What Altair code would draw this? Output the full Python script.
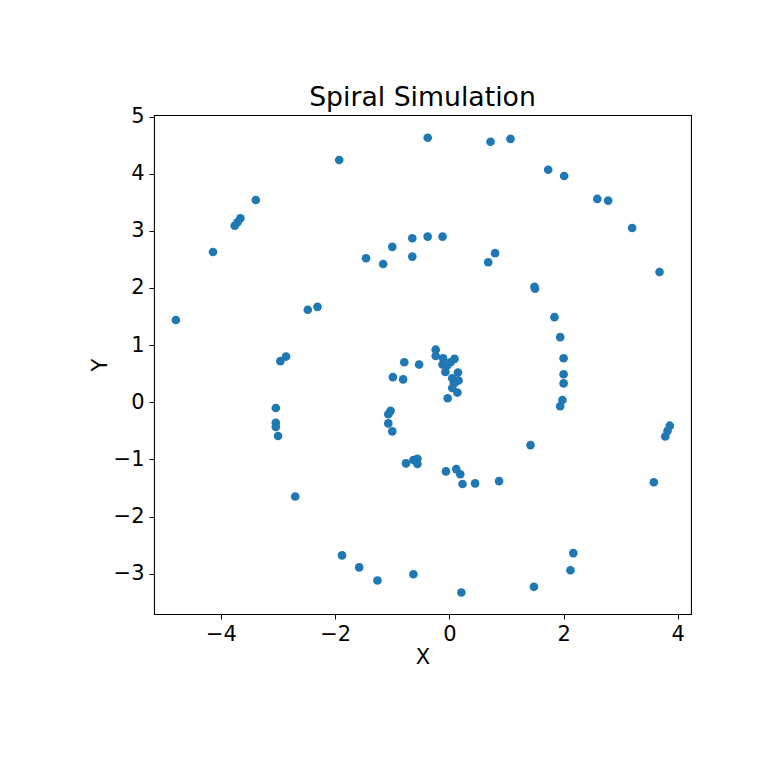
import altair as alt
import pandas as pd

x_vals = [
    -3.39, -3.66, -3.71, -3.76, -4.14,
    -1.93, -0.38, 0.72, 1.07, -1.46, -1.16, -1.00, -0.65, -0.38, -0.12, -0.65, 0.68, 0.80,
    1.73, 2.01, 2.59, 2.78, 3.20, 3.68,
    -4.79, -2.48, -2.31, -2.96, -2.86, -3.04, -3.04, -3.04, -3.00,
    -0.79, -0.53, -0.99, -0.81, -1.03, -1.07, -1.07, -1.00,
    -0.24, -0.24, -0.11, 0.09, 0.02, -0.12, -0.04, -0.07, 0.15, 0.05, 0.16, 0.08, 0.05, 0.14, -0.03,
    1.49, 1.50, 1.84, 1.94, 2.00, 2.00, 2.00, 1.98, 1.94, 3.86, 3.82, 3.78, 1.42,
    -2.70,
    -0.76, -0.63, -0.56, -0.56, -0.06, 0.12, 0.19, 0.23, 0.45, 0.87, -1.88, -1.58, -1.26, -0.63, 0.21,
    3.58, 2.17, 2.12, 1.48,
]
y_vals = [
    3.54, 3.22, 3.15, 3.09, 2.63,
    4.24, 4.63, 4.56, 4.61, 2.52, 2.42, 2.72, 2.87, 2.90, 2.90, 2.55, 2.45, 2.61,
    4.07, 3.96, 3.56, 3.53, 3.05, 2.28,
    1.44, 1.62, 1.67, 0.72, 0.80, -0.10, -0.36, -0.43, -0.59,
    0.70, 0.66, 0.44, 0.40, -0.15, -0.21, -0.37, -0.51,
    0.92, 0.81, 0.77, 0.76, 0.70, 0.66, 0.64, 0.53, 0.52, 0.42, 0.38, 0.33, 0.25, 0.17, 0.07,
    2.02, 1.99, 1.49, 1.14, 0.77, 0.49, 0.33, 0.04, -0.07, -0.41, -0.50, -0.60, -0.75,
    -1.65,
    -1.07, -1.01, -0.99, -1.08, -1.21, -1.17, -1.26, -1.43, -1.42, -1.38, -2.68, -2.89, -3.12, -3.01, -3.33,
    -1.40, -2.64, -2.94, -3.23,
]
x_ticks = [-4, -2, 0, 2, 4]
y_ticks = [-3, -2, -1, 0, 1, 2, 3, 4, 5]

df = pd.DataFrame({"X": x_vals, "Y": y_vals})

FONT = "DejaVu Sans"

chart = (
    alt.Chart(df)
    .mark_circle(color="#1f77b4", opacity=1, size=75)
    .encode(
        x=alt.X(
            "X:Q",
            title="X",
            scale=alt.Scale(domain=[-5.173, 4.231], nice=False, zero=False),
            axis=alt.Axis(
                values=x_ticks, grid=False, domain=False, tickColor="black",
                tickSize=5, labelPadding=4, labelFontSize=21, labelFont=FONT,
                labelColor="black", titleFontSize=21, titleFont=FONT,
                titleFontWeight="normal", titleColor="black", titlePadding=2,
            ),
        ),
        y=alt.Y(
            "Y:Q",
            title="Y",
            scale=alt.Scale(domain=[-3.706, 5.028], nice=False, zero=False),
            axis=alt.Axis(
                values=y_ticks, grid=False, domain=False, tickColor="black",
                tickSize=5, labelPadding=5, labelFontSize=21, labelFont=FONT,
                labelColor="black", titleFontSize=21, titleFont=FONT,
                titleFontWeight="normal", titleColor="black", titlePadding=3,
            ),
        ),
    )
    .properties(
        width=537,
        height=499,
        title=alt.TitleParams(
            "Spiral Simulation", fontSize=26.7, font=FONT, fontWeight="normal",
            color="black", anchor="middle", baseline="alphabetic", offset=8, dy=35,
        ),
        autosize=alt.AutoSizeParams(type="none"),
        padding={"left": 146, "top": 107, "right": 69, "bottom": 146},
        background="white",
    )
    .configure_view(stroke="black", strokeWidth=1.07, strokeOpacity=1)
)

chart.save("out.html", embed_options={"renderer": "svg", "actions": False})
